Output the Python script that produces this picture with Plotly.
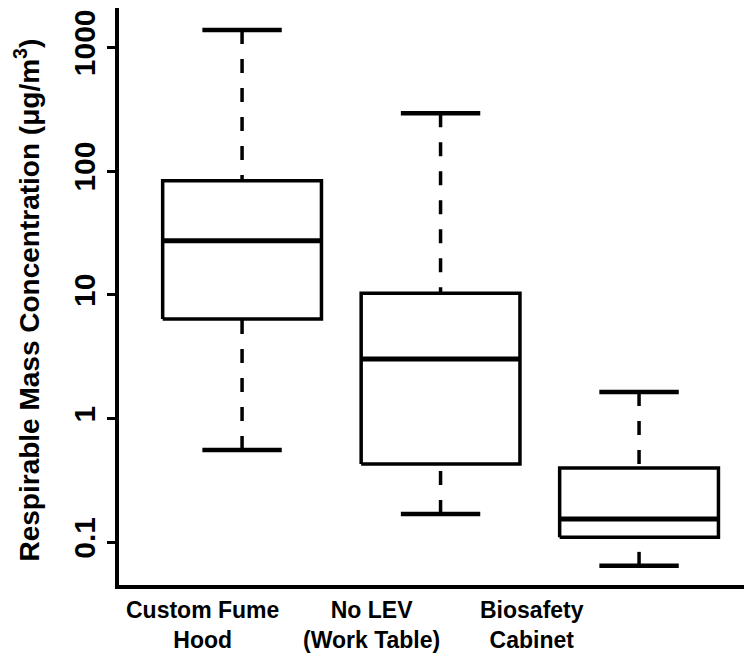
import plotly.graph_objects as go

# ---- data ----
categories = ["Custom Fume<br>Hood", "No LEV<br>(Work Table)", "Biosafety<br>Cabinet"]
whisker_low = [0.557, 0.169, 0.0645]
q1 = [6.37, 0.429, 0.110]
median = [27.4, 3.03, 0.154]
q3 = [83.6, 10.3, 0.398]
whisker_high = [1380, 294, 1.64]
ytick_vals = [0.1, 1, 10, 100, 1000]
ytick_text = ["0.1", "1", "10", "100", "1000"]

# ---- style / layout constants ----
FONT = "Liberation Sans, Arial, sans-serif"
HALF_BOX = 0.4
HALF_CAP = 0.2
label_x = [0.80, 1.65, 2.46]

fig = go.Figure()
blk = "black"
for i in range(len(categories)):
    c = i + 1
    # whiskers (drawn from cap toward box so dash pattern starts at cap)
    fig.add_trace(go.Scatter(x=[c, c], y=[whisker_high[i], q3[i]], mode="lines",
                             line=dict(color=blk, width=3.5, dash="14px,15px"),
                             hoverinfo="skip", showlegend=False))
    fig.add_trace(go.Scatter(x=[c, c], y=[whisker_low[i], q1[i]], mode="lines",
                             line=dict(color=blk, width=3.5, dash="14px,15px"),
                             hoverinfo="skip", showlegend=False))
    # caps
    for v in (whisker_high[i], whisker_low[i]):
        fig.add_trace(go.Scatter(x=[c - HALF_CAP, c + HALF_CAP], y=[v, v], mode="lines",
                                 line=dict(color=blk, width=4.5),
                                 hoverinfo="skip", showlegend=False))
    # box
    fig.add_trace(go.Scatter(x=[c - HALF_BOX, c + HALF_BOX, c + HALF_BOX, c - HALF_BOX, c - HALF_BOX],
                             y=[q1[i], q1[i], q3[i], q3[i], q1[i]], mode="lines",
                             line=dict(color=blk, width=3.5),
                             hoverinfo="skip", showlegend=False))
    # median
    fig.add_trace(go.Scatter(x=[c - HALF_BOX, c + HALF_BOX], y=[median[i], median[i]], mode="lines",
                             line=dict(color=blk, width=5),
                             hoverinfo="skip", showlegend=False))

for i, lab in enumerate(categories):
    fig.add_annotation(x=label_x[i], xref="x", y=0, yref="paper", yanchor="top",
                       yshift=-10, text=lab, showarrow=False, align="center",
                       font=dict(family=FONT, size=23, color="black", weight="bold"))

fig.add_annotation(x=0, xref="paper", xshift=-92, xanchor="center", y=0.5, yref="paper",
                   yanchor="middle", yshift=-4, textangle=-90, showarrow=False,
                   text="Respirable Mass Concentration (μg/m<sup>3</sup>)",
                   font=dict(family=FONT, size=28, color="black", weight="bold"))

fig.update_layout(
    width=744, height=656,
    margin=dict(l=111, r=0, t=0, b=79, autoexpand=False),
    paper_bgcolor="white", plot_bgcolor="white",
    xaxis=dict(range=[0.38, 3.569], showgrid=False, zeroline=False,
               showticklabels=False, ticks="", showline=True, linecolor="black",
               linewidth=4, mirror=True),
    yaxis=dict(type="log", range=[-1.345, 3.318], showgrid=False, zeroline=False,
               tickvals=ytick_vals, ticktext=ytick_text, tickangle=-90,
               ticklabeloverflow="allow",
               ticks="outside", ticklen=8, tickwidth=3, tickcolor="black",
               showline=True, linecolor="black", linewidth=4, mirror=False,
               tickfont=dict(family=FONT, size=30, color="black", weight="bold")),
)

fig.write_html("out.html")
